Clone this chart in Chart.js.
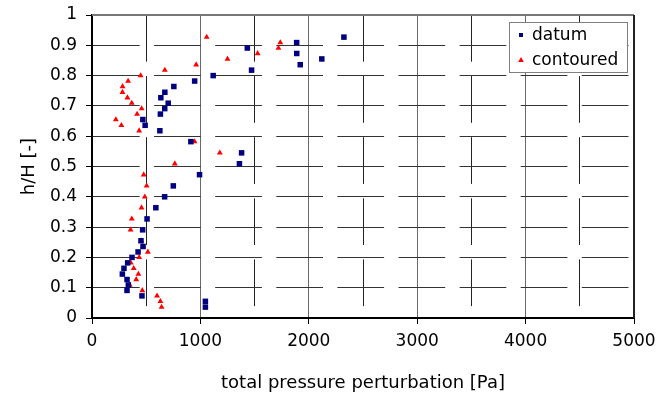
<!DOCTYPE html>
<html>
<head>
<meta charset="utf-8">
<script src="https://cdn.jsdelivr.net/npm/chart.js@4/dist/chart.umd.min.js"></script>
<style>
  html, body { margin: 0; padding: 0; background: #fff; }
</style>
</head>
<body>
<canvas id="chart" width="671" height="394"></canvas>
<script>
// ——————————————————————————————
// data: h/H levels and total pressure perturbation [Pa]
// ——————————————————————————————
const heights = [0.036, 0.055, 0.073, 0.091, 0.109, 0.127, 0.145, 0.164, 0.182, 0.2,
  0.218, 0.236, 0.255, 0.291, 0.327, 0.364, 0.4, 0.436, 0.473, 0.509,
  0.545, 0.582, 0.618, 0.636, 0.655, 0.673, 0.691, 0.709, 0.727, 0.745,
  0.764, 0.782, 0.8, 0.818, 0.836, 0.855, 0.873, 0.891, 0.909, 0.927];

const datumPa = [1046, 1046, 461, 323, 335, 323, 280, 295, 329, 369,
  425, 471, 452, 467, 508, 589, 670, 750, 992, 1360,
  1380, 912, 626, 490, 469, 631, 671, 703, 635, 672,
  755, 947, 1118, 1472, 1921, 2120, 1889, 1433, 1888, 2324];

const contouredPa = [642, 631, 600, 464, 348, 408, 428, 385, 358, 435,
  515, 469, 453, 356, 367, 457, 487, 504, 477, 764,
  1179, 946, 435, 271, 220, 416, 458, 367, 327, 281,
  282, 333, 449, 672, 961, 1250, 1528, 1720, 1737, 1058];

const seriesNames = ["datum", "contoured"];
const xTicks = [0, 1000, 2000, 3000, 4000, 5000];

const FONT = "'DejaVu Sans', Verdana, sans-serif";
const DASH = [46.7, 14.4];

function toPoints(xs) {
  return xs.map((x, i) => ({ x, y: heights[i] }));
}

// ——————————————————————————————
// frame + legend inside plot area
// ——————————————————————————————
const frame = {
  id: "frame",
  beforeDatasetsDraw(chart) {
    const { ctx, chartArea: a } = chart;
    ctx.save();
    ctx.lineWidth = 2;
    ctx.strokeStyle = "#777";
    ctx.beginPath();
    ctx.moveTo(a.left, a.top);
    ctx.lineTo(a.right, a.top);
    ctx.stroke();
    ctx.strokeStyle = "#222";
    ctx.beginPath();
    ctx.moveTo(a.right, a.top);
    ctx.lineTo(a.right, a.bottom);
    ctx.stroke();
    ctx.restore();
  }
};

function drawMarker(ctx, style, x, y) {
  ctx.beginPath();
  if (style === "rect") {
    ctx.rect(x - 2, y - 2, 4, 4);
  } else {
    ctx.moveTo(x, y - 3);
    ctx.lineTo(x + 2.8, y + 2);
    ctx.lineTo(x - 2.8, y + 2);
    ctx.closePath();
  }
  ctx.fill();
}

const legendBox = {
  id: "legendBox",
  afterDatasetsDraw(chart) {
    const { ctx, chartArea: a } = chart;
    const w = 118, h = 50;
    const left = a.right - 7 - w, top = a.top + 7;
    ctx.save();
    ctx.fillStyle = "#fff";
    ctx.fillRect(left, top, w, h);
    ctx.strokeStyle = "#808080";
    ctx.lineWidth = 1;
    ctx.strokeRect(Math.round(left) + 0.5, Math.round(top) + 0.5, w, h);
    ctx.font = "17px " + FONT;
    ctx.textBaseline = "middle";
    chart.data.datasets.forEach((ds, i) => {
      const y = top + 13 + i * 25;
      ctx.fillStyle = ds.backgroundColor;
      drawMarker(ctx, ds.pointStyle, left + 12, y);
      ctx.fillStyle = "#000";
      ctx.fillText(ds.label, left + 23, y + 1);
    });
    ctx.restore();
  }
};

// ——————————————————————————————
// chart
// ——————————————————————————————
const ctx = document.getElementById("chart").getContext("2d");
new Chart(ctx, {
  type: "scatter",
  data: {
    datasets: [
      {
        label: seriesNames[0],
        data: toPoints(datumPa),
        pointStyle: "rect",
        pointRadius: 3.9,
        borderWidth: 0,
        backgroundColor: "#000080",
        borderColor: "#000080"
      },
      {
        label: seriesNames[1],
        data: toPoints(contouredPa),
        pointStyle: "triangle",
        pointRadius: 3.4,
        borderWidth: 0,
        backgroundColor: "#ff0000",
        borderColor: "#ff0000"
      }
    ]
  },
  options: {
    responsive: false,
    animation: false,
    events: [],
    layout: { padding: { top: 15, right: 37, left: 0, bottom: 0 } },
    plugins: { legend: { display: false }, tooltip: { enabled: false } },
    scales: {
      x: {
        type: "linear",
        min: 0,
        max: 5000,
        afterFit: s => { s.height = 76; },
        afterBuildTicks: s => {
          // gridlines every 500, labels only on xTicks
          const t = [];
          for (let v = 0; v <= 5000; v += 500) t.push({ value: v });
          s.ticks = t;
        },
        ticks: {
          autoSkip: false,
          maxRotation: 0,
          padding: 7,
          color: "#000",
          font: { family: FONT, size: 17 },
          callback: v => (xTicks.includes(v) ? String(v) : "")
        },
        grid: {
          tickLength: 6,
          lineWidth: 1,
          color: c => {
            const v = c.tick ? c.tick.value : 0;
            if (v === 0 || v === 5000) return "transparent";
            return v % 1000 === 0 ? "#6a6a6a" : "#222";
          },
          tickColor: c => (c.tick && c.tick.value % 1000 === 0 ? "#000" : "transparent")
        },
        border: {
          display: true,
          color: "#000",
          width: 2,
          dash: c => (c.tick && c.tick.value % 1000 !== 0 ? DASH : [])
        },
        title: {
          display: true,
          text: "total pressure perturbation [Pa]",
          color: "#000",
          font: { family: FONT, size: 18 },
          padding: { top: 0, bottom: 0 }
        }
      },
      y: {
        type: "linear",
        min: 0,
        max: 1,
        afterFit: s => {
          s.width = 92;
          s.paddingTop = 0;
          s.paddingBottom = 0;
        },
        ticks: {
          stepSize: 0.1,
          padding: 9,
          color: "#000",
          font: { family: FONT, size: 17 },
          callback: v => String(Math.round(v * 10) / 10)
        },
        grid: {
          tickLength: 6,
          lineWidth: 1,
          color: c => {
            const v = c.tick ? Math.round(c.tick.value * 10) : 0;
            if (v === 0 || v === 10) return "transparent";
            return "#333";
          },
          tickColor: "#000"
        },
        border: {
          display: true,
          color: "#000",
          width: 2,
          dash: DASH
        },
        title: {
          display: true,
          text: "h/H [-]",
          color: "#000",
          font: { family: FONT, size: 18 },
          padding: { top: 19, bottom: 0 }
        }
      }
    }
  },
  plugins: [frame, legendBox]
});
</script>
</body>
</html>
